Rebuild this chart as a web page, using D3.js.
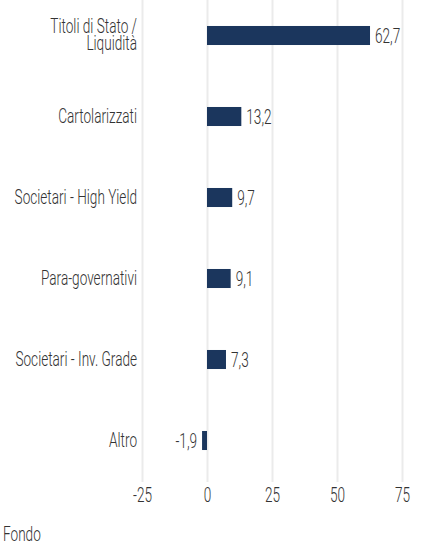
<!DOCTYPE html>
<html>
<head>
<meta charset="utf-8">
<script src="https://cdn.jsdelivr.net/npm/d3@7"></script>
<style>
  body { margin: 0; background: #fff; }
  svg text { font-family: Roboto, "Liberation Sans Narrow", sans-serif; font-weight: 300; fill: #333; }
</style>
</head>
<body>
<svg width="421" height="553"></svg>
<script>
// dati
var categories = ["Titoli di Stato /\nLiquidità", "Cartolarizzati", "Societari - High Yield",
    "Para-governativi", "Societari - Inv. Grade", "Altro"];
var values = [62.7, 13.2, 9.7, 9.1, 7.3, -1.9];
var tickValues = [-25, 0, 25, 50, 75];
var seriesName = "Fondo";

var svg = d3.select("svg");
var sx = 0.68; // font condensato

var x = d3.scaleLinear().domain([-25, 75]).range([142, 402]);
var y = d3.scaleBand().domain(categories).range([-5, 481])
    .paddingInner(0.765).paddingOuter(0.3825);

var fmt = function (v) { return String(v).replace(".", ","); };

// griglia + etichette asse
var axis = svg.append("g")
    .attr("transform", "translate(0,482)")
    .call(d3.axisBottom(x).tickValues(tickValues).tickSize(-482).tickPadding(6).tickFormat(function (d) { return String(d); }));
axis.select(".domain").remove();
axis.selectAll("line").attr("stroke", "#ebebeb").attr("stroke-width", 2);
axis.selectAll("text")
    .attr("font-size", 20)
    .attr("transform", "scale(" + sx + ",1)")
    .attr("fill", null);
axis.attr("font-family", null).attr("font-size", null);

// barre
svg.append("g").selectAll("rect")
    .data(values)
    .enter()
    .append("rect")
    .attr("x", function (d) { return x(Math.min(0, d)); })
    .attr("y", function (d, i) { return y(categories[i]); })
    .attr("width", function (d) { return Math.abs(x(d) - x(0)); })
    .attr("height", y.bandwidth())
    .attr("fill", "#1b365d");

// valori
svg.append("g").selectAll("text")
    .data(values)
    .enter()
    .append("text")
    .attr("font-size", 20)
    .attr("text-anchor", function (d) { return d < 0 ? "end" : "start"; })
    .attr("transform", function (d, i) {
        var px = d < 0 ? x(d) - 5 : x(d) + 5;
        var py = y(categories[i]) + y.bandwidth() / 2 + 7;
        return "translate(" + px + "," + py + ") scale(" + sx + ",1)";
    })
    .text(function (d) { return fmt(d); });

// categorie
var lab = svg.append("g").selectAll("text")
    .data(categories)
    .enter()
    .append("text")
    .attr("font-size", 20)
    .attr("text-anchor", "end")
    .attr("transform", function (d) {
        var py = y(d) + y.bandwidth() / 2 + 6;
        return "translate(137," + py + ") scale(" + sx + ",1)";
    });
lab.each(function (d) {
    var lines = d.split("\n");
    var t = d3.select(this);
    lines.forEach(function (l, i) {
        t.append("tspan")
            .attr("x", 0)
            .attr("y", (i - (lines.length - 1) / 2) * 17.5)
            .text(l);
    });
});

// legenda
svg.append("text")
    .attr("font-size", 20)
    .attr("transform", "translate(3,541) scale(" + sx + ",1)")
    .text(seriesName);
</script>
</body>
</html>
